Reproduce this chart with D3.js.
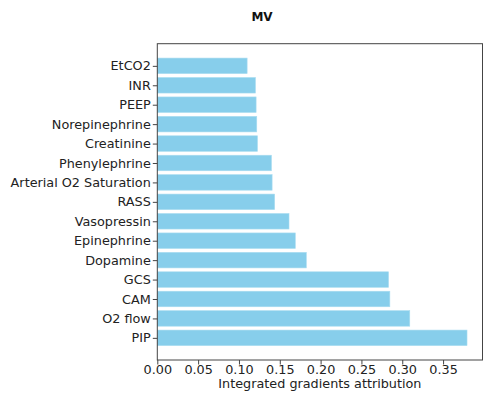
<!DOCTYPE html>
<html>
<head>
<meta charset="utf-8">
<script src="https://cdn.jsdelivr.net/npm/d3@7"></script>
<style>
  body { margin: 0; background: #fff; }
  svg text { font-family: "DejaVu Sans", sans-serif; }
</style>
</head>
<body>
<div id="chart"></div>
<script>
// Features, bottom to top as drawn (PIP sits at the bottom).
const features = ['PIP', 'O2 flow', 'CAM', 'GCS', 'Dopamine', 'Epinephrine', 'Vasopressin', 'RASS',
    'Arterial O2 Saturation', 'Phenylephrine', 'Creatinine', 'Norepinephrine', 'PEEP', 'INR', 'EtCO2'];
const attributions = [0.3793, 0.3092, 0.2848, 0.2832, 0.1825, 0.169, 0.1613, 0.1437,
    0.1406, 0.1398, 0.1227, 0.1218, 0.121, 0.1202, 0.110];
const xTicks = [0, 0.05, 0.1, 0.15, 0.2, 0.25, 0.3, 0.35];

const W = 483, H = 393;
const margin = {top: 43.7, right: 0.5, bottom: 33, left: 157.3};
const width = W - margin.left - margin.right;
const height = H - margin.top - margin.bottom;
const fontSize = '12.8px';

const svg = d3.select('#chart')
    .append('svg')
        .attr('width', W)
        .attr('height', H);

// Title (centred on the figure, not the axes).
svg.append('text')
    .attr('x', 262)
    .attr('y', 17)
    .attr('dy', '0.35em')
    .attr('text-anchor', 'middle')
    .style('font-size', '12px')
    .style('font-weight', 'bold')
    .style('fill', '#111')
    .text('MV');

const g = svg.append('g')
    .attr('transform', `translate(${margin.left},${margin.top})`);

// Scales: mimic matplotlib's 5% margins.
const xMax = d3.max(attributions) * 1.05;
const x = d3.scaleLinear()
    .domain([0, xMax])
    .range([0, width]);
const n = features.length;
const y = d3.scaleLinear()
    .domain([-0.4 - 0.74, n - 1 + 0.4 + 0.74])
    .range([height, 0]);

// Bars.
g.append('g')
  .selectAll('rect')
  .data(features)
  .enter()
  .append('rect')
    .attr('x', x(0))
    .attr('y', (d, i) => y(i + 0.4))
    .attr('width', (d, i) => x(attributions[i]) - x(0))
    .attr('height', y(-0.4) - y(0.4))
    .attr('fill', '#87ceeb')
    .attr('stroke', '#a9dcf0')
    .attr('stroke-width', 0.6);

// X axis.
const xAxis = g.append('g')
    .attr('transform', `translate(0,${height})`)
    .call(d3.axisBottom(x).tickValues(xTicks).tickFormat(d3.format('.2f')).tickSizeOuter(0).tickSize(4.5));
xAxis.selectAll('text')
    .attr('y', 10)
    .attr('dy', '0.35em')
    .style('font-size', fontSize)
    .style('fill', '#222');

// Y axis.
const yAxis = g.append('g')
    .call(d3.axisLeft(y).tickValues(d3.range(n)).tickFormat(i => features[i]).tickSizeOuter(0).tickSize(4.5));
yAxis.selectAll('text')
    .attr('x', -6.5)
    .style('font-size', fontSize)
    .style('fill', '#222');

[xAxis, yAxis].forEach(a => {
    a.select('.domain').remove();
    a.selectAll('line').attr('stroke', '#444');
});

// Frame (spines).
g.append('rect')
    .attr('width', width)
    .attr('height', height)
    .attr('fill', 'none')
    .attr('stroke', '#444')
    .attr('stroke-width', 1);

// X label.
svg.append('text')
    .attr('x', margin.left + width / 2)
    .attr('y', 384)
    .attr('dy', '0.35em')
    .attr('text-anchor', 'middle')
    .style('font-size', fontSize)
    .style('fill', '#222')
    .text('Integrated gradients attribution');
</script>
</body>
</html>
